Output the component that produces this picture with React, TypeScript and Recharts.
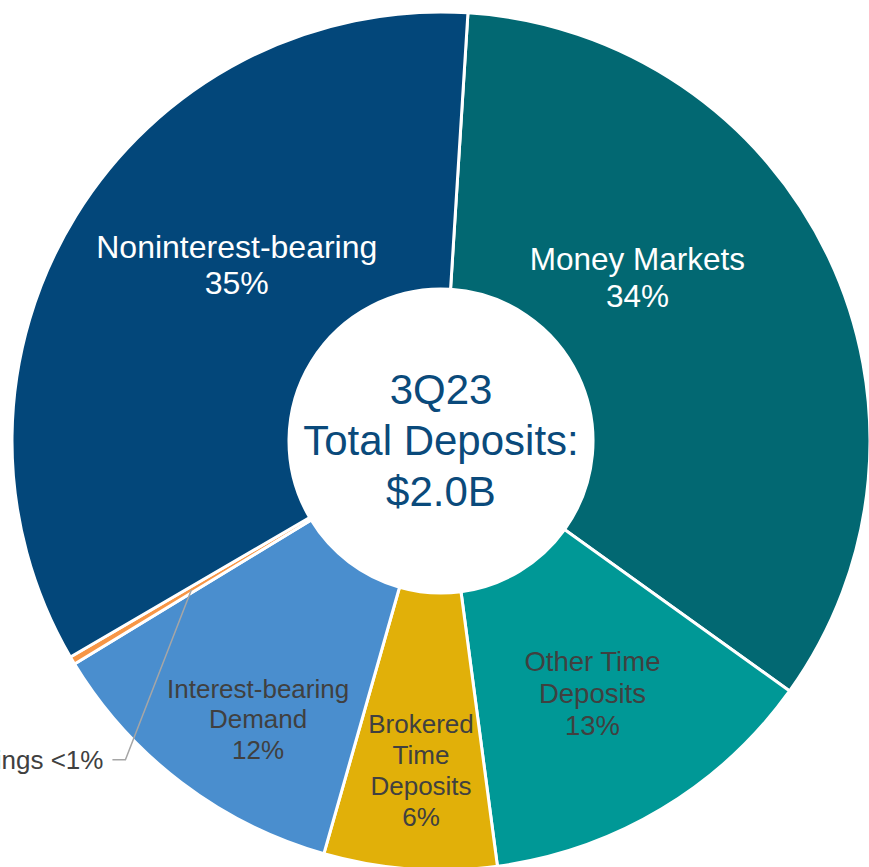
import { PieChart, Pie, Cell, Label } from 'recharts'

const CATEGORIES = [
  'Money Markets',
  'Other Time Deposits',
  'Brokered Time Deposits',
  'Interest-bearing Demand',
  'Savings',
  'Noninterest-bearing',
]
const SHARES = [33.9, 13.0, 6.5, 11.9, 0.3, 34.4]
const PCT_LABELS = ['34%', '13%', '6%', '12%', '<1%', '35%']
const LABEL_LINES = [
  ['Money Markets'],
  ['Other Time', 'Deposits'],
  ['Brokered', 'Time', 'Deposits'],
  ['Interest-bearing', 'Demand'],
  ['Savings'],
  ['Noninterest-bearing'],
]
const COLORS = ['#026872', '#009896', '#E1B009', '#4A8ECE', '#F79646', '#03477A']
const CENTER_LINES = ['3Q23', 'Total Deposits:', '$2.0B']

const FONT = '"Liberation Sans", Arial, sans-serif'
const RADIAN = Math.PI / 180
const CX = 441
const CY = 441

// label placement tweaks, relative to the slice mid-point
const LABEL_STYLE = [
  { dx: -66, dy: -39, size: 31.5, lh: 37, fill: '#ffffff' },
  { dx: 2, dy: 3, size: 27.5, lh: 32, fill: '#404040' },
  { dx: 1, dy: 40, size: 26, lh: 31, fill: '#404040' },
  { dx: -7, dy: 47, size: 26, lh: 30.5, fill: '#404040' },
  { dx: -66, dy: 170, size: 26, lh: 30, fill: '#404040' },
  { dx: 43, dy: -23, size: 32, lh: 36, fill: '#ffffff' },
]

const data = CATEGORIES.map((name, i) => ({ name, value: SHARES[i] }))

function SliceLabel(props: any) {
  const { cx, cy, midAngle, innerRadius, outerRadius, index } = props
  const r = (innerRadius + outerRadius) / 2
  const x = cx + r * Math.cos(-midAngle * RADIAN)
  const y = cy + r * Math.sin(-midAngle * RADIAN)
  const s = LABEL_STYLE[index]

  if (CATEGORIES[index] === 'Savings') {
    const ex = x + s.dx
    const ey = y + s.dy
    return (
      <g>
        <polyline
          points={`${x},${y} ${ex},${ey} ${ex - 13},${ey}`}
          fill="none"
          stroke="#A6A6A6"
          strokeWidth={1.5}
        />
        <text
          x={ex - 22}
          y={ey}
          textAnchor="end"
          dominantBaseline="central"
          fontFamily={FONT}
          fontSize={s.size}
          fill={s.fill}
        >
          {LABEL_LINES[index][0]} {PCT_LABELS[index]}
        </text>
      </g>
    )
  }

  const lines = [...LABEL_LINES[index], PCT_LABELS[index]]
  const top = y + s.dy - ((lines.length - 1) * s.lh) / 2
  return (
    <text
      x={x + s.dx}
      y={top}
      textAnchor="middle"
      dominantBaseline="central"
      fontFamily={FONT}
      fontSize={s.size}
      fill={s.fill}
    >
      {lines.map((line, i) => (
        <tspan key={i} x={x + s.dx} y={top + i * s.lh} dominantBaseline="central">
          {line}
        </tspan>
      ))}
    </text>
  )
}

function CenterLabel() {
  return (
    <text textAnchor="middle" fontFamily={FONT} fontSize={42} fill="#0A4A7B">
      {CENTER_LINES.map((line, i) => (
        <tspan key={i} x={CX} y={CY - 1 + (i - 1) * 51} dominantBaseline="central">
          {line}
        </tspan>
      ))}
    </text>
  )
}

export default function App() {
  return (
    <div style={{ width: 869, height: 867, overflow: 'hidden', background: '#fff' }}>
      <style>{'body{margin:0}'}</style>
      <PieChart width={869} height={867} margin={{ top: 0, right: 0, bottom: 0, left: 0 }}>
        <Pie
          data={data}
          dataKey="value"
          nameKey="name"
          cx={CX}
          cy={CY}
          innerRadius={152}
          outerRadius={429}
          startAngle={86.4}
          endAngle={-273.6}
          stroke="#ffffff"
          strokeWidth={3}
          label={SliceLabel}
          labelLine={false}
          isAnimationActive={false}
        >
          {data.map((d, i) => (
            <Cell key={d.name} fill={COLORS[i]} />
          ))}
          <Label position="center" content={CenterLabel} />
        </Pie>
      </PieChart>
    </div>
  )
}
